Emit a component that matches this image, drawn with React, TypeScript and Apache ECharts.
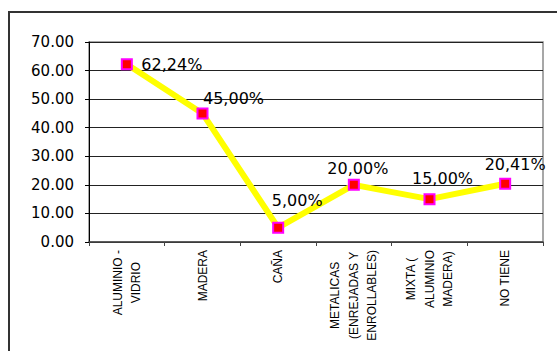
import React, { useEffect, useRef } from "react";
import * as echarts from "echarts";

// Window types and their share of dwellings (%)
const categories: string[] = [
  "ALUMINIO -\nVIDRIO",
  "MADERA",
  "CAÑA",
  "METALICAS\n(ENREJADAS Y\nENROLLABLES)",
  "MIXTA (\nALUMINIO\nMADERA)",
  "NO TIENE",
];
const values: number[] = [62.24, 45.0, 5.0, 20.0, 15.0, 20.41];
const valueLabels: string[] = ["62,24%", "45,00%", "5,00%", "20,00%", "15,00%", "20,41%"];
// Where each value label sits relative to its point
const labelOffsets: number[][] = [
  [45, 0],
  [31, -15],
  [19, -27],
  [4, -16],
  [13, -21],
  [10, -19],
];
const yTicks = { min: 0, max: 70, step: 10 };

const FONT = "DejaVu Sans";

export default function App() {
  const ref = useRef<HTMLDivElement>(null);

  useEffect(() => {
    if (!ref.current) return;
    const chart = echarts.init(ref.current, null, { renderer: "svg" });
    chart.setOption({
      animation: false,
      backgroundColor: "#ffffff",
      graphic: [
        {
          type: "rect",
          shape: { x: 9, y: 12, width: 700, height: 500 },
          style: { fill: "none", stroke: "#333333", lineWidth: 2 },
          silent: true,
          z: 0,
        },
      ],
      grid: {
        left: 89,
        top: 42,
        right: 14,
        bottom: 109,
        show: true,
        borderColor: "#8a8a8a",
        borderWidth: 1.5,
        backgroundColor: "transparent",
      },
      xAxis: {
        type: "category",
        data: categories,
        boundaryGap: true,
        axisLine: { show: true, lineStyle: { color: "#444444", width: 1.5 } },
        axisTick: { show: true, length: 4, lineStyle: { color: "#444444" } },
        axisLabel: {
          rotate: 90,
          margin: 8,
          interval: 0,
          color: "#000",
          formatter: (v: string) =>
            v
              .split("\n")
              .map((l) => `{c|${l}}`)
              .join("\n"),
          rich: {
            c: {
              align: "center",
              fontFamily: "Liberation Sans",
              fontSize: 12,
              lineHeight: 18.5,
              color: "#000",
            },
          },
        },
        splitLine: { show: false },
      },
      yAxis: {
        type: "value",
        min: yTicks.min,
        max: yTicks.max,
        interval: yTicks.step,
        axisLine: { show: true, lineStyle: { color: "#000", width: 1 } },
        axisTick: { show: true, length: 4, lineStyle: { color: "#000" } },
        axisLabel: {
          margin: 15,
          color: "#000",
          fontFamily: FONT,
          fontSize: 15,
          formatter: (v: number) => v.toFixed(2),
        },
        splitLine: { show: true, lineStyle: { color: "#222222", width: 1 } },
      },
      series: [
        {
          type: "line",
          data: values.map((v, i) => ({
            value: v,
            label: {
              show: true,
              position: "inside",
              offset: labelOffsets[i],
              formatter: () => valueLabels[i],
            },
          })),
          lineStyle: { color: "#ffff00", width: 6 },
          symbol: "rect",
          symbolSize: 10,
          itemStyle: { color: "#ff0000", borderColor: "#ff00ff", borderWidth: 2 },
          label: {
            show: true,
            color: "#000",
            fontFamily: FONT,
            fontSize: 16,
          },
          z: 3,
        },
      ],
    });
    return () => chart.dispose();
  }, []);

  return (
    <div
      ref={ref}
      style={{ position: "absolute", left: 0, top: 0, width: 557, height: 351 }}
    />
  );
}
